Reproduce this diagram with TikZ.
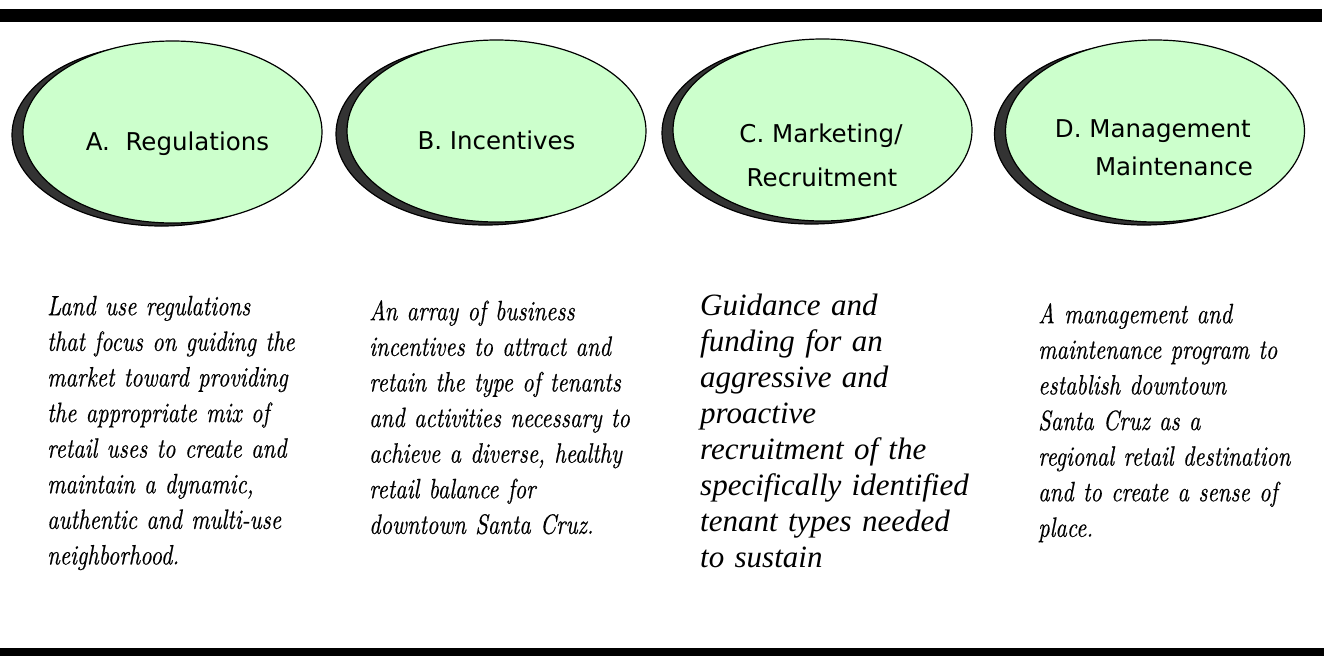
\documentclass[tikz,border=0pt]{standalone}
\usepackage{fontspec}
\usetikzlibrary{shapes.geometric}
\newfontfamily\lblfont{DejaVu Sans}
\newfontfamily\timesit{Liberation Serif Italic}
\newfontfamily\garit[FakeStretch=0.8,FakeBold=0.4]{lmroman10-italic.otf}
\definecolor{ovalfill}{HTML}{CCFFCC}
\definecolor{shadowgray}{HTML}{333333}
\begin{document}
\begin{tikzpicture}[x=1pt,y=-1pt,
  oval/.style={ellipse, draw=black, line width=1.2pt, fill=ovalfill,
    minimum width=299pt, minimum height=182pt, inner sep=0pt},
  ovalshadow/.style={oval, fill=shadowgray},
  lbl/.style={font=\lblfont\fontsize{24.5}{30}\selectfont, inner sep=0pt, anchor=base},
  lblr/.style={lbl, anchor=base east},
  desc/.style={font=\garit\fontsize{28}{35.6}\selectfont, inner sep=0pt,
    anchor=north west, text width=320pt, align=left},
  descc/.style={desc, font=\timesit\fontsize{31}{36}\selectfont},
  bar/.style={fill=black}]
\useasboundingbox (0,0) rectangle (1324,656);
% bars
\fill[bar] (0,9) rectangle (1322,22);
\fill[bar] (0,648) rectangle (1324,656);
% ovals with shadows
\node[ovalshadow] (sa) at (161.5,135) {};
\node[oval] (ea) at (172.5,132) {};
\node[ovalshadow] (sb) at (485.5,134) {};
\node[oval] (eb) at (496.5,131) {};
\node[ovalshadow] (sc) at (811.5,133) {};
\node[oval] (ec) at (822.5,130) {};
\node[ovalshadow] (sd) at (1144,134) {};
\node[oval] (ed) at (1155,131) {};
% oval labels
\node[lbl] (la) at (177.5,150) {A.\ \ Regulations};
\node[lbl] (lb) at (496.5,149) {B. Incentives};
\node[lbl] (lc1) at (821,142) {C. Marketing/};
\node[lbl] (lc2) at (822,186) {Recruitment};
\node[lblr] (ld1) at (1251,137) {D. Management};
\node[lblr] (ld2) at (1253,175) {Maintenance};
% descriptions
\node[desc] (ta) at (47,290.1) {\strut Land use regulations\\
that focus on guiding the\\
market toward providing\\
the appropriate mix of\\
retail uses to create and\\
maintain a dynamic,\\
authentic and multi-use\\
neighborhood.};
\node[desc] (tb) at (369,295.1) {\strut An array of business\\
incentives to attract and\\
retain the type of tenants\\
and activities necessary to\\
achieve a diverse, healthy\\
retail balance for\\
downtown Santa Cruz.};
\node[descc] (tc) at (700,289.8) {\strut Guidance and\\
funding for an\\
aggressive and\\
proactive\\
recruitment of the\\
specifically identified\\
tenant types needed\\
to sustain};
\node[desc] (td) at (1038,298.1) {\strut A management and\\
maintenance program to\\
establish downtown\\
Santa Cruz as a\\
regional retail destination\\
and to create a sense of\\
place.};
\end{tikzpicture}
\end{document}
